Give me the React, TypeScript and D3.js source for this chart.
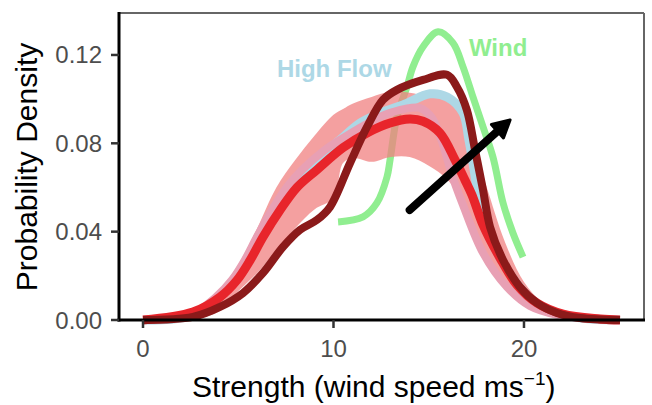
import React from "react";
import * as d3 from "d3";

// ---- data (wind speed in m/s, probability density) ----
const xTicks = [0, 10, 20];
const yTicks = [0, 0.04, 0.08, 0.12];
const yTickLabels = ["0.00", "0.04", "0.08", "0.12"];

const bandX = [0, 1, 2, 3, 4, 5, 6, 7, 8, 9, 10, 10.5, 11, 12, 13, 14, 15, 16, 17, 18, 19, 20, 21, 22, 23, 24, 25];
const bandUpper = [0, 0.0005, 0.0018, 0.0063, 0.0136, 0.025, 0.0417, 0.06, 0.0725, 0.0834, 0.0929, 0.0955, 0.0979, 0.101, 0.1033, 0.1029, 0.101, 0.0997, 0.087, 0.0612, 0.0353, 0.0172, 0.0077, 0.0032, 0.0009, 0.0002, 0];
const bandLower = [0, 0, 0.0002, 0.0009, 0.004, 0.013, 0.0213, 0.0317, 0.0417, 0.05, 0.0553, 0.0711, 0.0734, 0.0716, 0.0738, 0.0738, 0.0698, 0.0634, 0.0507, 0.0294, 0.0145, 0.0068, 0.0027, 0.0009, 0, 0, 0];

const windX = [10.24, 11.55, 12.28, 12.81, 12.97, 13.33, 13.86, 14.17, 14.7, 15.49, 16.27, 16.8, 17.32, 17.85, 18.37, 18.9, 19.42, 19.95];
const windY = [0.0444, 0.0467, 0.053, 0.0648, 0.0725, 0.092, 0.1056, 0.1146, 0.1237, 0.1305, 0.1255, 0.1146, 0.101, 0.0874, 0.0738, 0.053, 0.0394, 0.0285];

const highX = [0, 2.47, 3.94, 4.83, 5.51, 6.14, 6.98, 7.82, 8.77, 9.71, 10.34, 11.4, 12.6, 13.65, 15.07, 15.96, 16.8, 17.11, 17.38, 17.65, 18.2, 19.05, 20.1, 21.3, 23.0, 25.04];
const highY = [0, 0.0018, 0.0104, 0.0181, 0.0272, 0.0376, 0.0498, 0.0602, 0.0689, 0.077, 0.0815, 0.0892, 0.0942, 0.0974, 0.1024, 0.101, 0.0938, 0.0815, 0.068, 0.0544, 0.0385, 0.0236, 0.0118, 0.0045, 0.0009, 0];

const pinkX = [0, 2.47, 3.83, 4.67, 5.35, 5.98, 6.77, 7.56, 8.35, 9.55, 10.6, 11.65, 12.7, 13.75, 14.54, 15.17, 15.75, 16.22, 16.8, 17.85, 19.1, 20.31, 21.73, 23.46, 25.04];
const pinkY = [0, 0.0023, 0.0104, 0.0181, 0.0272, 0.0376, 0.0498, 0.0602, 0.068, 0.077, 0.0829, 0.0883, 0.0929, 0.0956, 0.096, 0.0915, 0.0793, 0.0657, 0.0521, 0.0304, 0.015, 0.0063, 0.0023, 0.0005, 0];

const redX = [0, 2.62, 4.04, 4.93, 5.62, 6.3, 7.2, 8.08, 9.13, 10.5, 11.76, 12.97, 14.0, 14.7, 15.59, 16.38, 16.9, 17.27, 17.85, 18.74, 19.63, 20.68, 22.05, 24, 25.04];
const redY = [0, 0.0036, 0.0104, 0.018, 0.027, 0.0376, 0.0498, 0.06, 0.068, 0.078, 0.0847, 0.0892, 0.091, 0.09, 0.0847, 0.0725, 0.0634, 0.0566, 0.043, 0.0281, 0.0159, 0.0077, 0.0027, 0.0005, 0];

const darkX = [0, 2.62, 4.04, 5.25, 6.3, 7.35, 8.24, 9.13, 9.82, 10.87, 11.76, 12.6, 13.33, 14.7, 15.96, 16.48, 17.0, 17.43, 17.85, 18.22, 18.9, 19.79, 20.68, 21.73, 22.94, 25.04];
const darkY = [0, 0.0014, 0.0059, 0.0122, 0.0213, 0.0331, 0.0408, 0.0453, 0.0512, 0.0711, 0.0874, 0.0997, 0.1042, 0.1087, 0.111, 0.1055, 0.0951, 0.077, 0.0589, 0.0421, 0.0272, 0.0149, 0.0077, 0.0032, 0.0009, 0];

const arrowFrom = [14.0, 0.0498];
const arrowTo = [19.27, 0.0906];

const labelHigh = { text: "High Flow", x: 7.03, y: 0.1101 };
const labelWind = { text: "Wind", x: 17.11, y: 0.1196 };

export default function App() {
  const W = 652, H = 405;
  const left = 119, right = 644, top = 13, bottom = 320;
  const x = d3.scaleLinear().domain([-1.26, 26.3]).range([left, right]);
  const y = d3.scaleLinear().domain([0, 0.139]).range([bottom, top]);

  const line = d3
    .line<[number, number]>()
    .x((d) => x(d[0]))
    .y((d) => y(d[1]))
    .curve(d3.curveCatmullRom.alpha(0.5));
  const zip = (a: number[], b: number[]) => a.map((v, i) => [v, b[i]] as [number, number]);

  const area = d3
    .area<number>()
    .x((d) => x(bandX[d]))
    .y0((d) => y(bandLower[d]))
    .y1((d) => y(bandUpper[d]))
    .curve(d3.curveCatmullRom.alpha(0.5));

  // arrow geometry from data via scales
  const ax0 = x(arrowFrom[0]), ay0 = y(arrowFrom[1]);
  const ax1 = x(arrowTo[0]), ay1 = y(arrowTo[1]);
  const ang = Math.atan2(ay1 - ay0, ax1 - ax0);
  const headLen = 17, headW = 9;
  const bx = ax1 - headLen * Math.cos(ang), by = ay1 - headLen * Math.sin(ang);
  const head = [
    [ax1, ay1],
    [bx + headW * Math.sin(ang), by - headW * Math.cos(ang)],
    [bx - headW * Math.sin(ang), by + headW * Math.cos(ang)],
  ];

  const font = "'Liberation Sans', Arial, Helvetica, sans-serif";

  return (
    <svg width={W} height={H} style={{ position: "absolute", left: 0, top: 0, background: "#fff" }}>
      <rect x={0} y={0} width={W} height={H} fill="#fff" />
      {/* wind */}
      <path d={line(zip(windX, windY)) || ""} fill="none" stroke="#90ee90" strokeWidth={7} strokeLinejoin="round" />
      {/* ribbon */}
      <path d={area(d3.range(bandX.length)) || ""} fill="#f08080" fillOpacity={0.75} stroke="none" />
      {/* high flow */}
      <path d={line(zip(highX, highY)) || ""} fill="none" stroke="#add8e6" strokeWidth={9} strokeLinejoin="round" />
      {/* pink */}
      <path d={line(zip(pinkX, pinkY)) || ""} fill="none" stroke="#e8a0b4" strokeWidth={8} strokeLinejoin="round" />
      {/* red mean */}
      <path d={line(zip(redX, redY)) || ""} fill="none" stroke="#e8252b" strokeWidth={9} strokeLinejoin="round" />
      {/* dark red */}
      <path d={line(zip(darkX, darkY)) || ""} fill="none" stroke="#8b1a1a" strokeWidth={8} strokeLinejoin="round" />
      {/* arrow */}
      <line x1={ax0} y1={ay0} x2={bx} y2={by} stroke="#000" strokeWidth={8} strokeLinecap="round" />
      <polygon points={head.map((p) => p.join(",")).join(" ")} fill="#000" stroke="#000" strokeWidth={3} strokeLinejoin="round" />

      {/* labels */}
      <text x={x(labelHigh.x)} y={y(labelHigh.y)} fill="#add8e6" fontFamily={font} fontWeight="bold" fontSize={24}>
        {labelHigh.text}
      </text>
      <text x={x(labelWind.x)} y={y(labelWind.y)} fill="#90ee90" fontFamily={font} fontWeight="bold" fontSize={24}>
        {labelWind.text}
      </text>

      {/* frame */}
      <line x1={left} x2={right} y1={top} y2={top} stroke="#666" strokeWidth={2} />
      <line x1={right} x2={right} y1={top} y2={bottom} stroke="#666" strokeWidth={2} />
      <line x1={left} x2={left} y1={top - 1} y2={bottom + 1.5} stroke="#000" strokeWidth={3} />
      <line x1={left - 1.5} x2={right + 1} y1={bottom} y2={bottom} stroke="#000" strokeWidth={3} />

      {/* y ticks */}
      {yTicks.map((t, i) => (
        <g key={"y" + i}>
          <line x1={left - 8} x2={left} y1={y(t)} y2={y(t)} stroke="#333" strokeWidth={2.5} />
          <text x={left - 17} y={y(t) + 8.5} textAnchor="end" fill="#4d4d4d" fontFamily={font} fontSize={24}>
            {yTickLabels[i]}
          </text>
        </g>
      ))}
      {/* x ticks */}
      {xTicks.map((t, i) => (
        <g key={"x" + i}>
          <line x1={x(t)} x2={x(t)} y1={bottom} y2={bottom + 8} stroke="#333" strokeWidth={2.5} />
          <text x={x(t)} y={357} textAnchor="middle" fill="#4d4d4d" fontFamily={font} fontSize={24}>
            {String(t)}
          </text>
        </g>
      ))}

      {/* axis titles */}
      <text x={192} y={397} fill="#000" fontFamily={font} fontSize={30}>
        Strength (wind speed ms<tspan fontSize={19} dy={-12}>−1</tspan><tspan dy={12}>)</tspan>
      </text>
      <text transform="translate(37,167) rotate(-90)" textAnchor="middle" fill="#000" fontFamily={font} fontSize={30}>
        Probability Density
      </text>
    </svg>
  );
}
